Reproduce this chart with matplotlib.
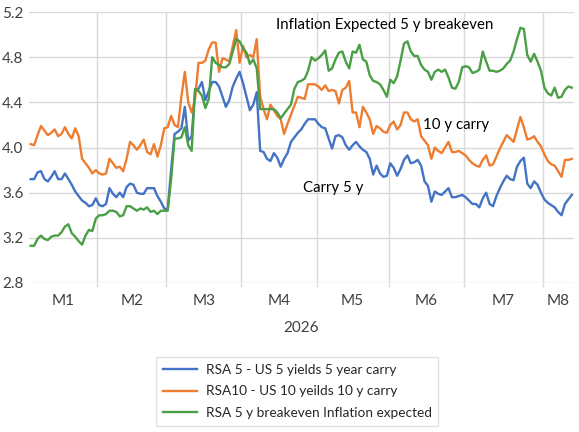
import numpy as np
import matplotlib
matplotlib.use("Agg")
import matplotlib.pyplot as plt

# daily readings, trading days of 2026 (M1..M8)
month_labels = ["M1", "M2", "M3", "M4", "M5", "M6", "M7", "M8"]
month_days = [20, 20, 22, 22, 21, 22, 23, 9]
year_label = "2026"

carry_5y = [
    3.72, 3.72, 3.78, 3.79, 3.72, 3.70, 3.74, 3.79, 3.72, 3.72,
    3.77, 3.72, 3.67, 3.61, 3.57, 3.53, 3.51, 3.48, 3.49, 3.55,
    3.49, 3.48, 3.50, 3.64, 3.59, 3.56, 3.60, 3.56, 3.65, 3.68,
    3.67, 3.60, 3.59, 3.59, 3.64, 3.64, 3.64, 3.57, 3.52, 3.46,
    3.45, 3.80, 4.12, 4.14, 4.17, 4.36, 4.06, 4.10, 4.50, 4.52,
    4.58, 4.42, 4.50, 4.58, 4.58, 4.54, 4.45, 4.36, 4.42, 4.54,
    4.61, 4.67, 4.57, 4.45, 4.33, 4.38, 4.49, 3.97, 3.96, 3.90,
    3.88, 3.95, 3.91, 3.83, 3.90, 3.95, 4.05, 4.09, 4.13, 4.16,
    4.21, 4.25, 4.25, 4.25, 4.21, 4.18, 4.17, 4.08, 3.99, 4.10,
    4.11, 4.09, 4.02, 3.98, 4.02, 4.05, 4.01, 3.98, 3.96, 3.90,
    3.76, 3.84, 3.77, 3.74, 3.75, 3.86, 3.82, 3.75, 3.81, 3.89,
    3.93, 3.86, 3.87, 3.89, 3.84, 3.70, 3.66, 3.52, 3.61, 3.59,
    3.58, 3.61, 3.64, 3.56, 3.56, 3.57, 3.58, 3.56, 3.53, 3.50,
    3.50, 3.47, 3.55, 3.60, 3.50, 3.48, 3.57, 3.64, 3.70, 3.75,
    3.72, 3.71, 3.83, 3.88, 3.91, 3.68, 3.64, 3.70, 3.67, 3.60,
    3.54, 3.51, 3.49, 3.47, 3.43, 3.40, 3.50, 3.54, 3.58,
]

carry_10y = [
    4.03, 4.02, 4.11, 4.19, 4.15, 4.11, 4.13, 4.16, 4.10, 4.12,
    4.18, 4.12, 4.08, 4.17, 4.10, 3.90, 3.86, 3.82, 3.77, 3.80,
    3.77, 3.76, 3.77, 3.90, 3.86, 3.82, 3.83, 3.79, 3.90, 4.05,
    4.02, 3.98, 4.02, 4.07, 3.96, 3.94, 4.03, 3.92, 4.02, 4.17,
    4.18, 4.28, 4.20, 4.18, 4.45, 4.67, 4.40, 4.31, 4.43, 4.75,
    4.75, 4.77, 4.87, 4.93, 4.93, 4.67, 4.79, 4.78, 4.76, 4.90,
    5.04, 4.75, 4.90, 4.80, 4.82, 4.80, 4.96, 4.45, 4.34, 4.25,
    4.38, 4.33, 4.28, 4.25, 4.12, 4.21, 4.29, 4.37, 4.45, 4.44,
    4.43, 4.56, 4.56, 4.56, 4.54, 4.51, 4.55, 4.50, 4.51, 4.50,
    4.39, 4.51, 4.53, 4.59, 4.31, 4.31, 4.18, 4.36, 4.31, 4.25,
    4.12, 4.19, 4.17, 4.14, 4.13, 4.20, 4.23, 4.16, 4.20, 4.31,
    4.31, 4.25, 4.23, 4.25, 4.10, 4.06, 4.02, 3.90, 4.00, 3.97,
    3.95, 4.00, 4.05, 3.96, 3.96, 3.97, 3.95, 3.93, 3.89, 3.86,
    3.84, 3.83, 3.89, 3.93, 3.84, 3.85, 3.92, 3.99, 4.05, 4.11,
    4.08, 4.05, 4.16, 4.27, 4.18, 4.07, 4.08, 4.10, 4.05, 4.01,
    3.94, 3.88, 3.85, 3.84, 3.79, 3.74, 3.89, 3.89, 3.90,
]

breakeven_5y = [
    3.13, 3.13, 3.19, 3.22, 3.19, 3.18, 3.21, 3.22, 3.22, 3.25,
    3.30, 3.32, 3.24, 3.21, 3.17, 3.14, 3.22, 3.27, 3.26, 3.37,
    3.40, 3.40, 3.41, 3.44, 3.44, 3.43, 3.39, 3.40, 3.48, 3.48,
    3.46, 3.44, 3.46, 3.45, 3.47, 3.43, 3.44, 3.41, 3.44, 3.44,
    3.44, 3.72, 4.08, 4.08, 4.09, 4.18, 4.02, 3.97, 4.52, 4.50,
    4.46, 4.35, 4.43, 4.80, 4.75, 4.73, 4.71, 4.71, 4.74, 4.85,
    4.96, 4.94, 4.88, 4.84, 4.74, 4.78, 4.70, 4.34, 4.34, 4.34,
    4.34, 4.34, 4.31, 4.26, 4.30, 4.34, 4.38, 4.52, 4.58, 4.59,
    4.61, 4.68, 4.80, 4.77, 4.79, 4.82, 4.86, 4.68, 4.70, 4.78,
    4.84, 4.85, 4.76, 4.70, 4.85, 4.84, 4.91, 4.78, 4.76, 4.64,
    4.59, 4.58, 4.56, 4.51, 4.45, 4.60, 4.57, 4.63, 4.77, 4.92,
    4.94, 4.85, 4.81, 4.81, 4.73, 4.69, 4.67, 4.60, 4.67, 4.69,
    4.67, 4.69, 4.62, 4.53, 4.52, 4.58, 4.71, 4.72, 4.71, 4.66,
    4.67, 4.69, 4.85, 4.76, 4.68, 4.68, 4.67, 4.68, 4.70, 4.74,
    4.77, 4.85, 4.96, 5.06, 5.05, 4.82, 4.76, 4.83, 4.76, 4.68,
    4.53, 4.48, 4.46, 4.53, 4.44, 4.45, 4.51, 4.54, 4.53,
]

series_names = [
    "RSA 5 - US 5 yields 5 year carry",
    "RSA10 - US 10 yeilds 10 y carry",
    "RSA 5 y breakeven Inflation expected",
]
colors = ["#4472C4", "#ED7D31", "#4A9E45"]

plt.rcParams["font.family"] = ["Lato", "DejaVu Sans"]

fig = plt.figure(figsize=(5.79, 4.32), dpi=100)
W, H = 579, 432
ax = fig.add_axes([29 / W, 1 - 283 / H, (573.5 - 29) / W, (283 - 12) / H])

days = np.arange(len(carry_5y))
lines = []
for vals, c, name in zip([carry_5y, carry_10y, breakeven_5y], colors, series_names):
    ln, = ax.plot(days, vals, color=c, lw=1.7, label=name, solid_joinstyle="round")
    lines.append(ln)

n = len(days)
ax.set_xlim(-0.5, n - 0.5)
ax.set_ylim(2.8, 5.2)
ax.set_yticks(np.arange(2.8, 5.21, 0.4))
ax.set_yticklabels([f"{v:.1f}" for v in np.arange(2.8, 5.21, 0.4)])

edges = np.cumsum(month_days)
starts = edges - np.array(month_days)
centers = (starts + edges) / 2 - 0.5
ax.set_xticks(centers)
ax.set_xticklabels(month_labels)
ax.set_xticks(edges[:-1] - 0.5, minor=True)

ax.grid(axis="y", color="#d9d9d9", lw=1)
ax.grid(axis="x", which="minor", color="#d9d9d9", lw=1)
ax.set_axisbelow(True)
for s in ax.spines.values():
    s.set_visible(False)
ax.tick_params(axis="x", which="major", length=0, pad=8, labelsize=11, labelcolor="#404040")
ax.tick_params(axis="x", which="minor", length=3, color="#d9d9d9", width=1)
ax.tick_params(axis="y", length=0, pad=4, labelsize=11, labelcolor="#404040")

fig.text(301 / W, 1 - 328 / H, year_label, ha="center", va="center", fontsize=11, color="#404040")

ax.text(71.5, 5.085, "Inflation Expected 5 y breakeven", fontsize=10.8, va="center")
ax.text(114.5, 4.20, "10 y carry", fontsize=10.8, va="center")
ax.text(79.4, 3.64, "Carry 5 y", fontsize=10.8, va="center")

leg = fig.legend(handles=lines, loc="upper left", bbox_to_anchor=(156 / W, 1 - 357 / H),
                 fontsize=9.8, frameon=True, fancybox=False, handlelength=2.5,
                 handletextpad=0.65, labelspacing=0.7, borderpad=0.5, borderaxespad=0)
leg.get_frame().set_edgecolor("#d9d9d9")
leg.get_frame().set_linewidth(1)
for t in leg.get_texts():
    t.set_color("#262626")

fig.savefig("out.png", dpi=100)
